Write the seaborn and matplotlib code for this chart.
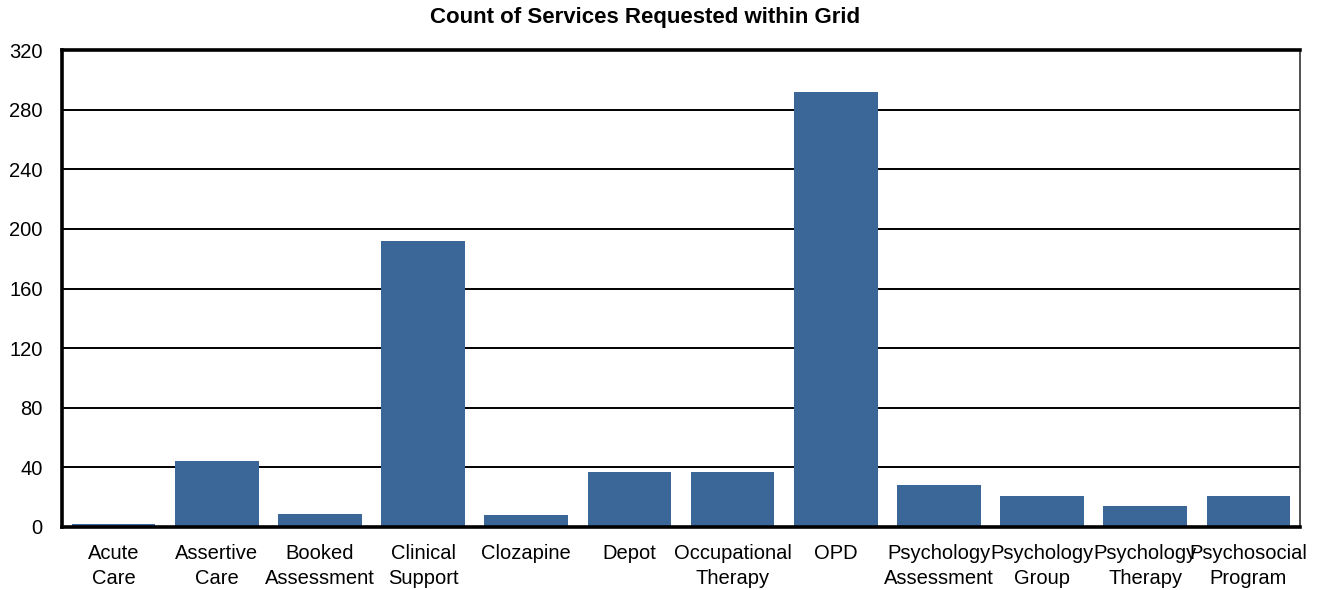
import matplotlib
matplotlib.use("Agg")
import matplotlib.pyplot as plt
import seaborn as sns
import pandas as pd

services = ["Acute\nCare", "Assertive\nCare", "Booked\nAssessment", "Clinical\nSupport",
            "Clozapine", "Depot", "Occupational\nTherapy", "OPD",
            "Psychology\nAssessment", "Psychology\nGroup", "Psychology\nTherapy",
            "Psychosocial\nProgram"]
counts = [2, 44, 9, 192, 8, 37, 37, 292, 28, 21, 14, 21]
y_ticks = [0, 40, 80, 120, 160, 200, 240, 280, 320]

sns.set_theme(style="white")
plt.rcParams["font.family"] = ["Liberation Sans", "DejaVu Sans"]
plt.rcParams["text.color"] = "black"

df = pd.DataFrame({"service": services, "count": counts})

fig = plt.figure(figsize=(13.24, 5.90), dpi=100)
ax = fig.add_axes([62 / 1324, 63 / 590, 1238 / 1324, 477 / 590])

sns.barplot(data=df, x="service", y="count", color="#3B6698", saturation=1,
            width=0.81, linewidth=0, edgecolor="none", ax=ax)

ax.set_ylim(0, 320)
ax.set_yticks(y_ticks)
ax.set_yticklabels([str(t) for t in y_ticks])
ax.set_xlim(-0.5, len(services) - 0.5)
ax.yaxis.grid(True, color="black", linewidth=1.4)
ax.set_axisbelow(True)
ax.tick_params(axis="both", length=0, labelsize=14.5, labelcolor="black")
ax.tick_params(axis="x", pad=12)
ax.tick_params(axis="y", pad=14)
for lbl in ax.get_xticklabels():
    lbl.set_linespacing(1.4)
ax.set_xlabel("")
ax.set_ylabel("")

for side in ["left", "bottom", "top"]:
    ax.spines[side].set_visible(True)
    ax.spines[side].set_color("black")
    ax.spines[side].set_linewidth(2.6)
ax.spines["right"].set_visible(True)
ax.spines["right"].set_color("#333333")
ax.spines["right"].set_linewidth(1.2)

fig.text(645 / 1324, 1 - 17 / 590, "Count of Services Requested within Grid",
         fontsize=16, fontweight="bold", ha="center", va="center", color="black")

fig.savefig("out.png", dpi=100, facecolor="white")
